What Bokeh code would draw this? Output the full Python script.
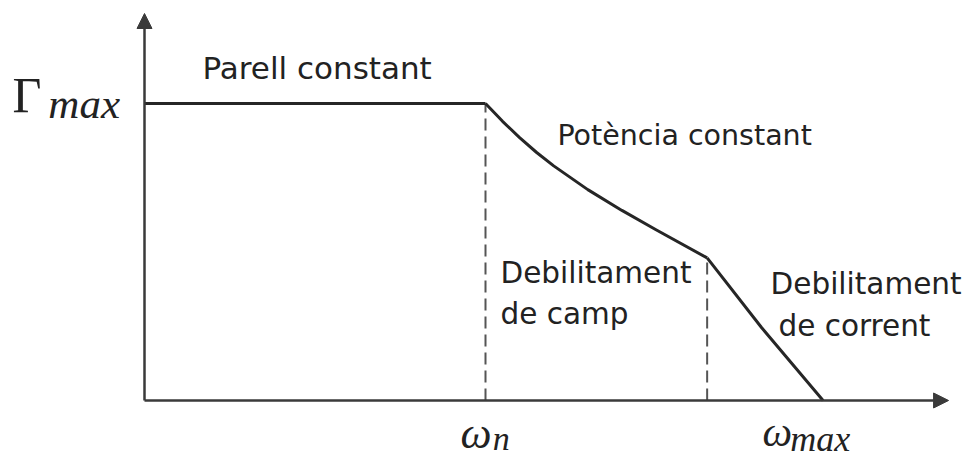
from bokeh.plotting import figure
from bokeh.models import Range1d, Arrow, NormalHead, Label
from bokeh.embed import file_html
from bokeh.resources import INLINE

# Torque–speed envelope of a drive: normalised speed (omega / omega_n) vs torque (Gamma / Gamma_max)
speed_const_torque = [0.0, 1.0]
torque_const_torque = [1.0, 1.0]

speed_field_weak = [1.0, 1.05, 1.1, 1.15, 1.2, 1.3, 1.4, 1.5, 1.65]
torque_field_weak = [1.0, 0.94, 0.885, 0.835, 0.79, 0.71, 0.64, 0.575, 0.48]

speed_current_weak = [1.65, 1.81, 1.99]
torque_current_weak = [0.48, 0.245, 0.0]

omega_n = 1.0
omega_break = 1.65
torque_break = 0.48

p = figure(width=970, height=461, output_backend="svg", toolbar_location=None,
           x_range=Range1d(-0.4223, 2.4223), y_range=Range1d(-0.2054, 1.3468),
           min_border=0, min_border_left=0, min_border_right=0,
           min_border_top=0, min_border_bottom=0)
p.axis.visible = False
p.grid.visible = False
p.outline_line_color = None
p.background_fill_color = "white"
p.border_fill_color = "white"

axis_color = "#3a3a3a"
curve_color = "#262626"

# axes with arrow heads
p.add_layout(Arrow(x_start=0, y_start=0, x_end=2.358, y_end=0,
                   line_width=2.5, line_color=axis_color,
                   end=NormalHead(size=15, fill_color=axis_color, line_color=axis_color)))
p.add_layout(Arrow(x_start=0, y_start=0, x_end=0, y_end=1.303,
                   line_width=2.5, line_color=axis_color,
                   end=NormalHead(size=15, fill_color=axis_color, line_color=axis_color)))

# dashed guides at the region boundaries
p.segment(x0=[omega_n, omega_break], y0=[0, 0], x1=[omega_n, omega_break],
          y1=[torque_const_torque[-1], torque_break],
          line_color="#555555", line_width=2, line_dash="12 6")

# envelope
p.line(speed_const_torque, torque_const_torque, line_color=curve_color, line_width=3)
p.line(speed_field_weak, torque_field_weak, line_color=curve_color, line_width=3,
       line_join="round")
p.line(speed_current_weak, torque_current_weak, line_color=curve_color, line_width=3,
       line_join="round")

sans = "DejaVu Sans"
serif = "Liberation Serif"
txt = "#222222"

def label(x, y, text, size, font=sans, style="normal"):
    p.add_layout(Label(x=x, y=y, text=text, text_font=font, text_font_size=size,
                       text_font_style=style, text_color=txt,
                       text_baseline="alphabetic", text_align="left"))

label(0.170, 1.118, "Parell constant", "31px")
label(1.211, 0.891, "Potència constant", "28.5px")
label(1.044, 0.430, "Debilitament", "29.5px")
label(1.044, 0.292, "de camp", "29.5px")
label(1.836, 0.393, "Debilitament", "29.5px")
label(1.859, 0.252, "de corrent", "29.5px")

# math-style axis labels
label(-0.387, 1.029, "Γ", "50px", font=serif)
label(-0.282, 1.001, "max", "43px", font=serif, style="italic")
label(0.927, -0.112, "ω", "44px", font=serif, style="italic")
label(1.021, -0.128, "n", "34px", font=serif, style="italic")
label(1.812, -0.105, "ω", "42px", font=serif, style="italic")
label(1.894, -0.128, "max", "36px", font=serif, style="italic")

open("out.html", "w").write(file_html(p, INLINE))
